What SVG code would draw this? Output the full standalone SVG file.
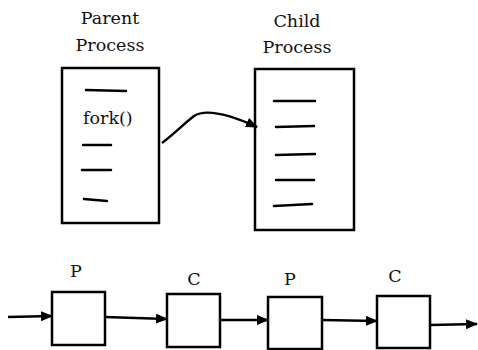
<svg xmlns="http://www.w3.org/2000/svg" width="478" height="350" viewBox="0 0 478 350">
<style>
.box{fill:#fff;stroke:#000;stroke-width:2.5}
.ln{stroke:#000;stroke-width:2.5;stroke-linecap:round;fill:none}
.t{font-family:'DejaVu Serif','Liberation Serif',serif;font-size:17.5px;fill:#111}
.c{stroke:#000;stroke-width:2.5;fill:none}
</style>
<defs>
<marker id="ah" markerWidth="12" markerHeight="10" refX="11" refY="5" orient="auto" markerUnits="userSpaceOnUse">
<path d="M0,0 L12,5 L0,10 Z" fill="#000"/>
</marker>
</defs>
<g id="parent">
<text class="t" x="110" y="24" text-anchor="middle">Parent</text>
<text class="t" x="110" y="51" text-anchor="middle">Process</text>
<rect class="box" x="62" y="68" width="97" height="155"/>
<line class="ln" x1="86" y1="90" x2="126" y2="91"/>
<text class="t" x="83" y="124">fork()</text>
<line class="ln" x1="83" y1="145" x2="111" y2="145"/>
<line class="ln" x1="82" y1="170" x2="111" y2="170"/>
<line class="ln" x1="84" y1="199" x2="107" y2="201"/>
</g>
<g id="child">
<text class="t" x="297" y="27" text-anchor="middle">Child</text>
<text class="t" x="297" y="53" text-anchor="middle">Process</text>
<rect class="box" x="255" y="69" width="99" height="161"/>
<line class="ln" x1="274" y1="101" x2="315" y2="101"/>
<line class="ln" x1="276" y1="127" x2="314" y2="126"/>
<line class="ln" x1="276" y1="155" x2="315" y2="154"/>
<line class="ln" x1="276" y1="180" x2="314" y2="180"/>
<line class="ln" x1="274" y1="206" x2="312" y2="204"/>
</g>
<g id="p1">
<text class="t" x="76" y="277" text-anchor="middle">P</text>
<rect class="box" x="52" y="292" width="53" height="53"/>
</g>
<g id="c1">
<text class="t" x="194" y="285" text-anchor="middle">C</text>
<rect class="box" x="167" y="294" width="53" height="53"/>
</g>
<g id="p2">
<text class="t" x="290" y="285" text-anchor="middle">P</text>
<rect class="box" x="268" y="297" width="54" height="52"/>
</g>
<g id="c2">
<text class="t" x="395" y="282" text-anchor="middle">C</text>
<rect class="box" x="377" y="296" width="53" height="52"/>
</g>
<g id="connectors">
<path class="c" d="M162,143 C175,133 186,122 194,116 C208,107 235,117 257,127" marker-end="url(#ah)"/>
<line class="c" x1="8" y1="317" x2="52" y2="316" marker-end="url(#ah)"/>
<line class="c" x1="105" y1="317" x2="167" y2="319" marker-end="url(#ah)"/>
<line class="c" x1="220" y1="320" x2="268" y2="320" marker-end="url(#ah)"/>
<line class="c" x1="322" y1="320" x2="377" y2="321" marker-end="url(#ah)"/>
<line class="c" x1="430" y1="325" x2="477" y2="324" marker-end="url(#ah)"/>
</g>
</svg>
